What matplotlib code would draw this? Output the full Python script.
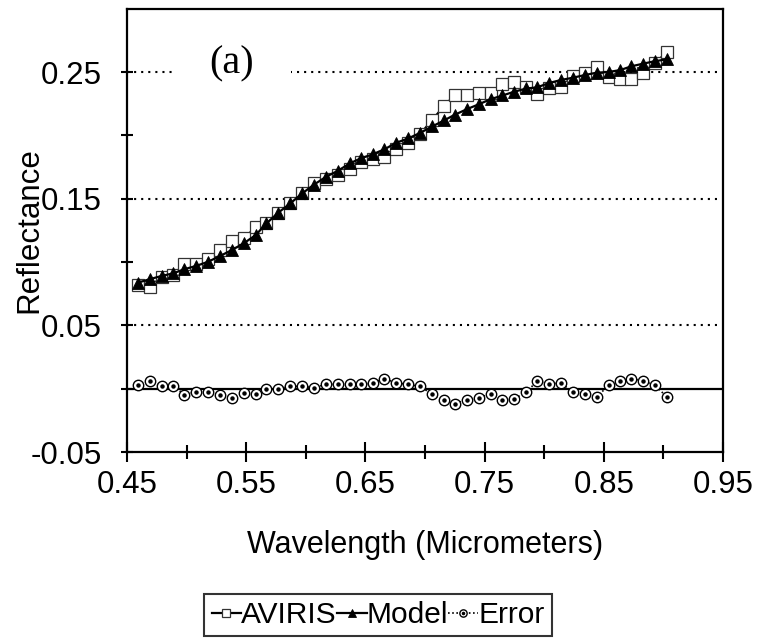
import matplotlib
matplotlib.use("Agg")
import matplotlib.pyplot as plt
from matplotlib.patches import Rectangle
from matplotlib.ticker import FixedLocator, NullFormatter, FixedFormatter

plt.rcParams['font.family'] = ['Liberation Sans', 'DejaVu Sans']

wavelength = [0.459, 0.469, 0.479, 0.489, 0.498, 0.508, 0.518, 0.528, 0.538, 0.548,
              0.558, 0.567, 0.577, 0.587, 0.597, 0.607, 0.617, 0.627, 0.637, 0.646,
              0.656, 0.666, 0.676, 0.686, 0.696, 0.706, 0.716, 0.725, 0.735, 0.745,
              0.755, 0.765, 0.775, 0.785, 0.794, 0.804, 0.814, 0.824, 0.834, 0.844,
              0.854, 0.864, 0.873, 0.883, 0.893, 0.903]

aviris = [0.0820, 0.0805, 0.0880, 0.0897, 0.0984, 0.0984, 0.1021, 0.1095, 0.1168, 0.1187,
          0.1274, 0.1310, 0.1390, 0.1463, 0.1547, 0.1621, 0.1653, 0.1687, 0.1732, 0.1792,
          0.1811, 0.1831, 0.1890, 0.1942, 0.2011, 0.2121, 0.2232, 0.2318, 0.2318, 0.2332,
          0.2332, 0.2405, 0.2423, 0.2384, 0.2326, 0.2371, 0.2379, 0.2468, 0.2494, 0.2537,
          0.2463, 0.2442, 0.2442, 0.2494, 0.2573, 0.2656]

model = [0.0837, 0.0864, 0.0890, 0.0911, 0.0943, 0.0969, 0.1002, 0.1047, 0.1095, 0.1148,
         0.1213, 0.1305, 0.1390, 0.1463, 0.1542, 0.1612, 0.1673, 0.1721, 0.1779, 0.1818,
         0.1850, 0.1890, 0.1942, 0.1976, 0.2020, 0.2070, 0.2118, 0.2163, 0.2206, 0.2245,
         0.2285, 0.2315, 0.2345, 0.2370, 0.2379, 0.2413, 0.2437, 0.2455, 0.2476, 0.2495,
         0.2500, 0.2516, 0.2545, 0.2566, 0.2586, 0.2600]

error = [0.0026, 0.0061, 0.0018, 0.0024, -0.0047, -0.0026, -0.0024, -0.0050, -0.0071, -0.0034,
         -0.0045, 0.0000, 0.0000, 0.0018, 0.0018, 0.0008, 0.0034, 0.0034, 0.0034, 0.0034,
         0.0045, 0.0079, 0.0045, 0.0034, 0.0018, -0.0045, -0.0092, -0.0118, -0.0087, -0.0074,
         -0.0039, -0.0092, -0.0079, -0.0026, 0.0058, 0.0039, 0.0045, -0.0026, -0.0039, -0.0066,
         0.0026, 0.0061, 0.0079, 0.0061, 0.0026, -0.0066]

x_major = [0.45, 0.55, 0.65, 0.75, 0.85, 0.95]
x_minor = [0.50, 0.60, 0.70, 0.80, 0.90]
y_major = [-0.05, 0.05, 0.15, 0.25]
y_minor = [0.0, 0.10, 0.20]
x_labels = ['0.45', '0.55', '0.65', '0.75', '0.85', '0.95']
y_labels = ['-0.05', '0.05', '0.15', '0.25']

W, H = 758, 642
fig = plt.figure(figsize=(W / 100, H / 100), dpi=100)
ax = fig.add_axes([127 / W, 1 - 452 / H, (723 - 127) / W, (452 - 8.7) / H])
ax.set_xlim(0.45, 0.95)
ax.set_ylim(-0.05, 0.30)

for s in ax.spines.values():
    s.set_linewidth(1.6)
    s.set_color('black')

# gridlines
for yv in y_major[1:]:
    ax.axhline(yv, color='black', lw=1.5, linestyle=(0, (1, 2.4)), zorder=1)
ax.axhline(0.0, color='black', lw=1.6, zorder=2)

# white box behind the panel label, interrupting the top gridline
ax.add_patch(Rectangle((0.4875, 0.238), 0.1005, 0.034, facecolor='white',
                       edgecolor='none', zorder=1.5))

ax.plot(wavelength, aviris, color='black', lw=1.6, marker='s', markersize=8.5,
        markerfacecolor='white', markeredgecolor='#333333', markeredgewidth=0.9,
        zorder=3, label='AVIRIS')
ax.plot(wavelength, model, color='black', lw=1.6, marker='^', markersize=8.5,
        markerfacecolor='black', markeredgecolor='black', markeredgewidth=0.6,
        zorder=4, label='Model')
err_line, = ax.plot(wavelength, error, color='black', lw=1.2, linestyle=(0, (1, 1.5)),
                    marker='o', markersize=7.5, markerfacecolor='white',
                    markeredgecolor='black', markeredgewidth=1.0, zorder=3)
err_dot, = ax.plot(wavelength, error, linestyle='none', marker='o', markersize=2.2,
                   color='black', zorder=4)

ax.xaxis.set_major_locator(FixedLocator(x_major))
ax.xaxis.set_major_formatter(FixedFormatter(x_labels))
ax.xaxis.set_minor_locator(FixedLocator(x_minor))
ax.xaxis.set_minor_formatter(NullFormatter())
ax.yaxis.set_major_locator(FixedLocator(y_major))
ax.yaxis.set_major_formatter(FixedFormatter(y_labels))
ax.yaxis.set_minor_locator(FixedLocator(y_minor))
ax.yaxis.set_minor_formatter(NullFormatter())

ax.tick_params(axis='x', which='major', direction='inout', length=14, width=1.5,
               labelsize=22.5, pad=6)
ax.tick_params(axis='x', which='minor', direction='inout', length=10, width=1.5)
ax.tick_params(axis='y', which='both', direction='inout', length=8, width=1.5,
               labelsize=22.5, pad=14)

ax.set_xlabel('Wavelength (Micrometers)', fontsize=22)
ax.set_ylabel('Reflectance', fontsize=22.5)
ax.xaxis.set_label_coords(0.5, -0.175)
ax.yaxis.set_label_coords(-0.138, 0.5)

ax.text(0.538, 0.2568, '(a)', fontsize=29, family=['Liberation Serif', 'DejaVu Serif'],
        ha='center', va='center', zorder=5)

handles = [ax.get_lines()[4], ax.get_lines()[5], (err_line, err_dot)]
leg = fig.legend(handles, ['AVIRIS', 'Model', 'Error'], loc='center',
                 bbox_to_anchor=(378 / W, 1 - 615 / H), ncol=3, fontsize=21.5,
                 frameon=True, fancybox=False, edgecolor='black', borderpad=0.25,
                 handlelength=1.0, handletextpad=0.0, columnspacing=0.0,
                 markerscale=0.7, borderaxespad=0)
leg.get_frame().set_linewidth(1.5)

fig.savefig('out.png', dpi=100)
